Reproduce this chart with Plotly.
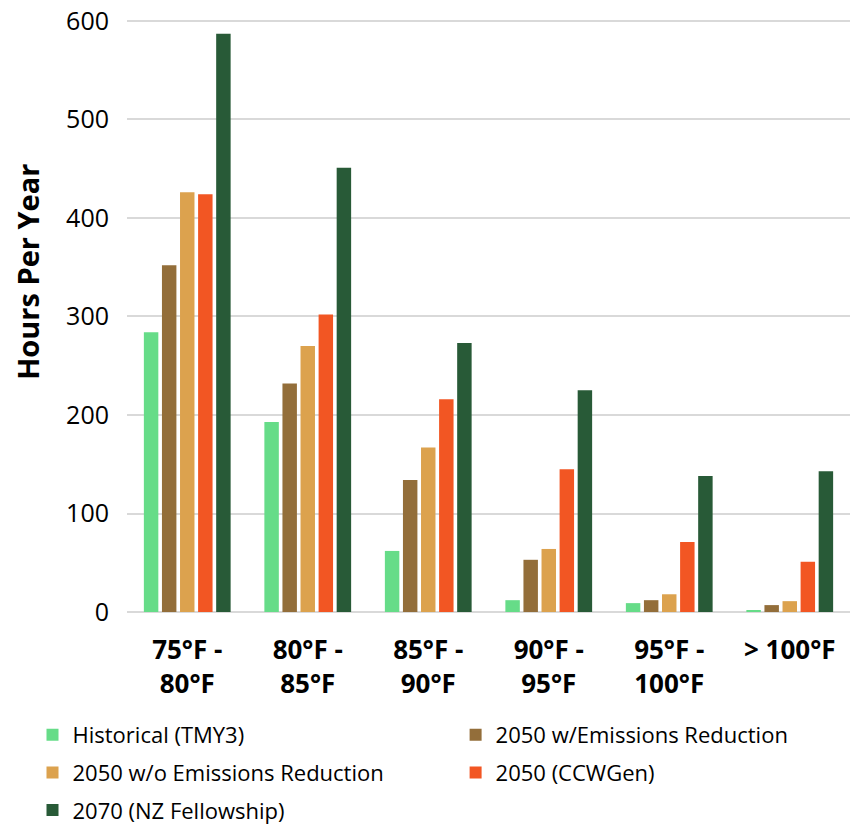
import plotly.graph_objects as go

categories = ["75°F -<br>80°F", "80°F -<br>85°F", "85°F -<br>90°F", "90°F -<br>95°F", "95°F -<br>100°F", "> 100°F"]
series_names = ["Historical (TMY3)", "2050 w/Emissions Reduction", "2050 w/o Emissions Reduction",
                "2050 (CCWGen)", "2070 (NZ Fellowship)"]
historical = [284, 193, 62, 12, 9, 2]
w_reduction = [352, 232, 134, 53, 12, 7]
wo_reduction = [426, 270, 167, 64, 18, 11]
ccwgen = [424, 302, 216, 145, 71, 51]
nz_fellowship = [587, 451, 273, 225, 138, 143]
colors = ["#66DC88", "#936E3A", "#DCA24E", "#F25623", "#285A37"]
legend_slots = ["legend", "legend2", "legend", "legend2", "legend"]
y_ticks = [0, 100, 200, 300, 400, 500, 600]

fig = go.Figure()
for i, (name, vals, col) in enumerate(zip(series_names,
                                          [historical, w_reduction, wo_reduction, ccwgen, nz_fellowship],
                                          colors)):
    fig.add_trace(go.Bar(x=categories, y=vals, name=name, legend=legend_slots[i],
                         legendgroup=f"g{i}",
                         marker=dict(color=col, line=dict(width=0))))

legend_common = dict(orientation="v", xref="paper", yref="container", yanchor="top",
                     xanchor="left", font=dict(size=22), traceorder="grouped",
                     tracegroupgap=6, itemclick=False, itemdoubleclick=False,
                     bgcolor="rgba(0,0,0,0)")

fig.update_layout(
    width=850, height=824,
    margin=dict(l=127, r=0, t=19, b=212),
    paper_bgcolor="white", plot_bgcolor="white",
    barmode="group", bargap=0.25, bargroupgap=0.2,
    font=dict(family="Open Sans", color="#000000"),
    xaxis=dict(tickfont=dict(size=26, family="Open Sans", weight="bold"), ticks="",
               ticklabelstandoff=20, showgrid=False, showline=False, automargin=False),
    yaxis=dict(range=[0, 602], tickvals=y_ticks, tickfont=dict(size=25), ticks="",
               ticklabelstandoff=17, ticklabeloverflow="allow",
               showgrid=True, gridcolor="#D9D9D9", gridwidth=1.5,
               zeroline=True, zerolinecolor="#D9D9D9", zerolinewidth=1.5, automargin=False),
    legend=dict(x=-0.1307, y=0.1335, **legend_common),
    legend2=dict(x=0.4545, y=0.1335, **legend_common),
    showlegend=True,
    annotations=[dict(text="<b>Hours Per Year</b>", textangle=-90, xref="paper", yref="paper",
                      x=-0.138, y=0.574, xanchor="center", yanchor="middle", showarrow=False,
                      font=dict(size=29))],
)

fig.write_html("out.html", config={"displayModeBar": False},
               post_script="document.body.style.margin='0';document.body.style.overflow='hidden';")
